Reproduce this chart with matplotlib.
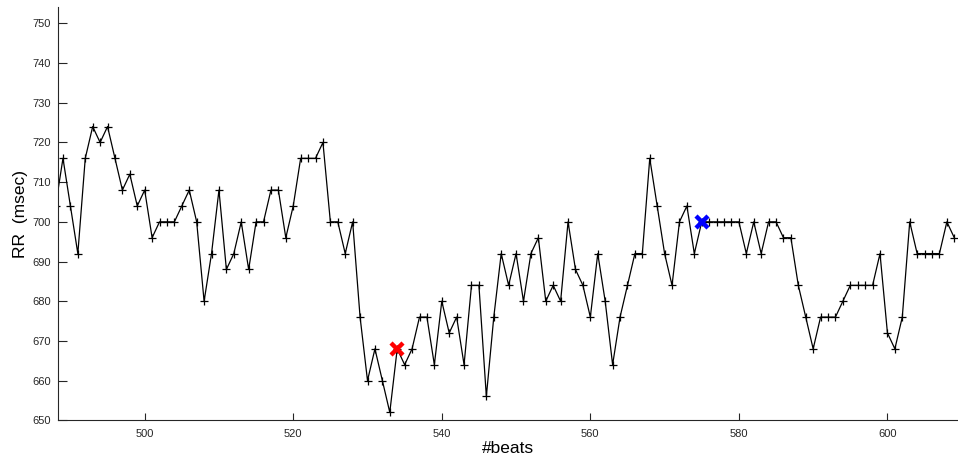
import matplotlib
matplotlib.use("Agg")
import matplotlib.pyplot as plt

plt.rcParams['font.family'] = ['Liberation Sans', 'DejaVu Sans']

# RR intervals (msec) per beat
beats = list(range(488, 610))
rr = [704,
      716, 704, 692, 716, 724, 720, 724, 716, 708, 712, 704, 708,
      696, 700, 700, 700, 704, 708, 700, 680, 692, 708,
      688, 692, 700, 688, 700, 700, 708, 708, 696, 704,
      716, 716, 716, 720, 700, 700, 692, 700, 676, 660,
      668, 660, 652, 668, 664, 668, 676, 676, 664, 680,
      672, 676, 664, 684, 684, 656, 676, 692, 684, 692,
      680, 692, 696, 680, 684, 680, 700, 688, 684, 676,
      692, 680, 664, 676, 684, 692, 692, 716, 704, 692,
      684, 700, 704, 692, 700, 700, 700, 700, 700, 700,
      692, 700, 692, 700, 700, 696, 696, 684, 676, 668,
      676, 676, 676, 680, 684, 684, 684, 684, 692, 672,
      668, 676, 700, 692, 692, 692, 692, 700, 696]

# highlighted beats
start_beat, start_rr = 534, 668
end_beat, end_rr = 575, 700

xticks = [500, 520, 540, 560, 580, 600]
yticks = list(range(650, 751, 10))

fig = plt.figure(figsize=(9.58, 4.61), dpi=100)
ax = fig.add_axes([58 / 958, 1 - 420.3 / 461, 1 - 58 / 958, (420.3 - 6.7) / 461])

ax.plot(beats, rr, color='black', linewidth=0.9, marker='+',
        markersize=6.2, markeredgewidth=0.9, clip_on=True)
ax.plot([start_beat], [start_rr], marker='x', color='red',
        markersize=9, markeredgewidth=3.2, linestyle='none', zorder=5)
ax.plot([end_beat], [end_rr], marker='x', color='blue',
        markersize=9, markeredgewidth=3.2, linestyle='none', zorder=5)

ax.set_xlim(488.33, 609.5)
ax.set_ylim(650, 754.2)
ax.set_xticks(xticks)
ax.set_yticks(yticks)

axis_color = '#262626'
for side in ['top', 'right']:
    ax.spines[side].set_visible(False)
for side in ['left', 'bottom']:
    ax.spines[side].set_color(axis_color)
    ax.spines[side].set_linewidth(0.8)

ax.tick_params(axis='both', direction='in', width=0.8,
               colors=axis_color, labelsize=8)
ax.tick_params(axis='y', length=6.5, pad=5)
ax.tick_params(axis='x', length=5, pad=6)

ax.set_xlabel('#beats', fontsize=12.5, color='black', labelpad=2)
ax.set_ylabel('RR  (msec)', fontsize=12.5, color='black', labelpad=3)

fig.savefig('out.png', dpi=100)
